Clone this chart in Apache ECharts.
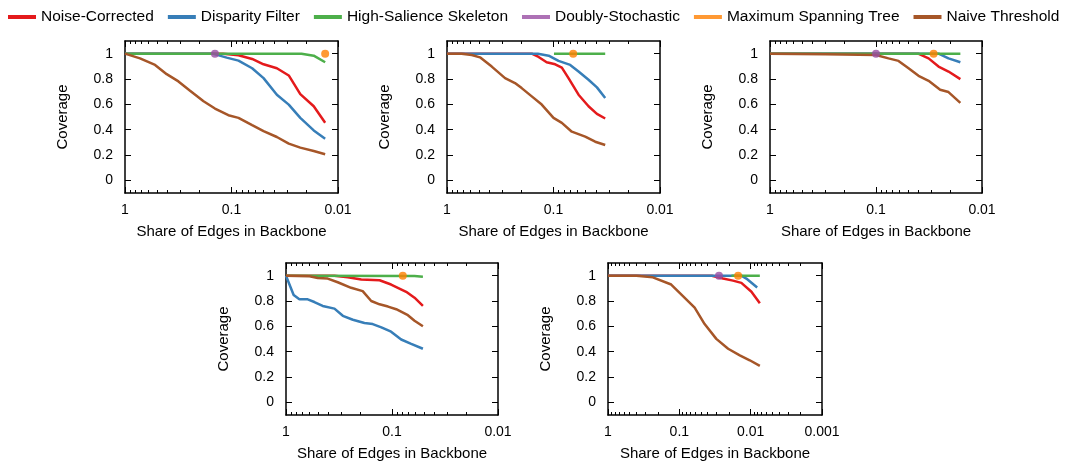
<!DOCTYPE html>
<html>
<head>
<meta charset="utf-8">
<script src="https://cdn.jsdelivr.net/npm/echarts@6/dist/echarts.min.js"></script>
<style>html,body{margin:0;padding:0;background:#fff;}#c{width:1065px;height:465px;}</style>
</head>
<body>
<div id="c"></div>
<script>
// ---- Data (x = share of edges in backbone, y = coverage) ----
const methods = ['Noise-Corrected','Disparity Filter','High-Salience Skeleton','Doubly-Stochastic','Maximum Spanning Tree','Naive Threshold'];
const colors = ['#e41a1c','#377eb8','#4daf4a','#984ea3','#ff7f00','#a65628'];
const yTicks = [0,0.2,0.4,0.6,0.8,1];
const xTicksA = [1,0.1,0.01];
const xTicksB = [1,0.1,0.01,0.001];

// Panel 1
const p1NC = [[1,1],[0.12,1],[0.086,0.987],[0.064,0.958],[0.05,0.916],[0.0375,0.885],[0.029,0.828],[0.0226,0.681],[0.0169,0.585],[0.0132,0.454]];
const p1DF = [[1,1],[0.15,1],[0.111,0.969],[0.086,0.945],[0.064,0.885],[0.05,0.807],[0.0375,0.676],[0.029,0.598],[0.0226,0.493],[0.0169,0.394],[0.0132,0.329]];
const p1HSS = [[1,1],[0.022,1],[0.0169,0.984],[0.0132,0.932]];
const p1DS = [[0.143,1]];
const p1MST = [[0.0132,1]];
const p1NT = [[1,1],[0.723,0.963],[0.522,0.911],[0.406,0.838],[0.315,0.781],[0.245,0.708],[0.183,0.624],[0.143,0.567],[0.107,0.514],[0.086,0.493],[0.064,0.436],[0.05,0.389],[0.0375,0.342],[0.029,0.29],[0.0226,0.258],[0.0169,0.232],[0.0132,0.206]];

// Panel 2
const p2NC = [[1,1],[0.16,1],[0.138,0.974],[0.116,0.932],[0.0964,0.916],[0.0835,0.89],[0.0723,0.807],[0.0582,0.676],[0.0469,0.585],[0.0391,0.525],[0.0327,0.488]];
const p2DF = [[1,1],[0.14,1],[0.111,0.984],[0.0897,0.943],[0.0697,0.911],[0.0582,0.859],[0.0469,0.794],[0.0391,0.734],[0.0327,0.65]];
const p2HSS = [[0.099,1],[0.0327,1]];
const p2DS = [];
const p2MST = [[0.0653,1]];
const p2NT = [[1,1],[0.73,1],[0.586,0.99],[0.49,0.971],[0.38,0.898],[0.285,0.807],[0.23,0.768],[0.199,0.728],[0.16,0.663],[0.129,0.598],[0.1,0.493],[0.0835,0.454],[0.0673,0.384],[0.0504,0.345],[0.0406,0.305],[0.0327,0.279]];

// Panel 3
const p3NC = [[1,1],[0.04,1],[0.0319,0.963],[0.0257,0.898],[0.0207,0.859],[0.016,0.799]];
const p3DF = [[1,1],[0.0257,1],[0.0207,0.963],[0.016,0.932]];
const p3HSS = [[1,1],[0.016,1]];
const p3DS = [[0.1,1]];
const p3MST = [[0.0286,1]];
const p3NT = [[1,1],[0.3,0.995],[0.1,0.99],[0.0762,0.963],[0.0613,0.943],[0.0493,0.885],[0.0397,0.825],[0.0319,0.786],[0.0248,0.715],[0.0207,0.697],[0.016,0.611]];

// Panel 4
const p4NC = [[1,1],[0.35,1],[0.261,0.987],[0.195,0.969],[0.131,0.964],[0.102,0.93],[0.0735,0.873],[0.0613,0.826],[0.0511,0.761]];
const p4DF = [[1,1],[0.847,0.847],[0.748,0.813],[0.624,0.813],[0.54,0.792],[0.451,0.761],[0.349,0.74],[0.291,0.683],[0.234,0.652],[0.182,0.626],[0.152,0.618],[0.126,0.592],[0.102,0.558],[0.0819,0.496],[0.0659,0.462],[0.0511,0.423]];
const p4HSS = [[1,1],[0.0613,0.997],[0.0511,0.992]];
const p4DS = [];
const p4MST = [[0.0791,1]];
const p4NT = [[1,1],[0.6,0.995],[0.502,0.982],[0.404,0.977],[0.325,0.948],[0.243,0.904],[0.189,0.878],[0.157,0.8],[0.131,0.774],[0.109,0.756],[0.0913,0.735],[0.0708,0.688],[0.0613,0.644],[0.0511,0.6]];

// Panel 5
const p5NC = [[1,1],[0.035,1],[0.0244,0.977],[0.0177,0.961],[0.0135,0.943],[0.00975,0.873],[0.00744,0.782]];
const p5DF = [[1,1],[0.0135,1],[0.0115,0.977],[0.0081,0.906]];
const p5HSS = [[0.0186,1],[0.00744,1]];
const p5DS = [[0.0278,1]];
const p5MST = [[0.015,1]];
const p5NT = [[1,1],[0.4,1],[0.235,0.987],[0.13,0.93],[0.089,0.839],[0.061,0.748],[0.0442,0.618],[0.0303,0.501],[0.0207,0.423],[0.0142,0.371],[0.0103,0.332],[0.00744,0.288]];

const panels = [
  {data:[p1NC,p1DF,p1HSS,p1DS,p1MST,p1NT], xmin:0.01, ticks:xTicksA, grid:{left:125,top:41,width:213,height:152}},
  {data:[p2NC,p2DF,p2HSS,p2DS,p2MST,p2NT], xmin:0.01, ticks:xTicksA, grid:{left:447,top:41,width:213,height:152}},
  {data:[p3NC,p3DF,p3HSS,p3DS,p3MST,p3NT], xmin:0.01, ticks:xTicksA, grid:{left:770,top:41,width:212,height:152}},
  {data:[p4NC,p4DF,p4HSS,p4DS,p4MST,p4NT], xmin:0.01, ticks:xTicksA, grid:{left:286,top:263,width:212,height:152}},
  {data:[p5NC,p5DF,p5HSS,p5DS,p5MST,p5NT], xmin:0.001, ticks:xTicksB, grid:{left:608,top:263,width:214,height:152}}
];

// ---- Build options ----
const FONT = 'Liberation Sans, Arial, sans-serif';
function minorTicks(xmin){
  const out=[];
  for(let e=Math.round(Math.log10(xmin)); e<0; e++){
    for(let k=2;k<=9;k++) out.push(Number((k*Math.pow(10,e)).toPrecision(3)));
  }
  return out;
}
const grids=[], xAxes=[], yAxes=[], series=[];
const lineC = '#000';
panels.forEach((p,gi)=>{
  grids.push(Object.assign({containLabel:false}, p.grid));
  const base = {type:'log', logBase:10, gridIndex:gi, min:p.xmin, max:1, inverse:true, splitLine:{show:false}};
  const minors = minorTicks(p.xmin);
  xAxes.push(Object.assign({}, base, {
    position:'bottom',
    axisLine:{show:true, onZero:false, lineStyle:{color:lineC, width:1.5}},
    axisTick:{show:true, inside:true, length:6, customValues:p.ticks, lineStyle:{color:lineC, width:1}},
    axisLabel:{show:true, customValues:p.ticks, fontSize:14, color:'#000', fontFamily:FONT, margin:10, formatter:v=>String(v)},
    name:'Share of Edges in Backbone', nameLocation:'middle', nameGap:31,
    nameTextStyle:{fontSize:15, color:'#000', fontFamily:FONT}
  }));
  xAxes.push(Object.assign({}, base, {
    position:'bottom', axisLine:{show:false, onZero:false},
    axisTick:{show:true, inside:true, length:3, customValues:minors, lineStyle:{color:lineC, width:1}},
    axisLabel:{show:false}
  }));
  xAxes.push(Object.assign({}, base, {
    position:'top',
    axisLine:{show:true, onZero:false, lineStyle:{color:lineC, width:1.5}},
    axisTick:{show:true, inside:true, length:6, customValues:p.ticks, lineStyle:{color:lineC, width:1}},
    axisLabel:{show:false}
  }));
  xAxes.push(Object.assign({}, base, {
    position:'top', axisLine:{show:false, onZero:false},
    axisTick:{show:true, inside:true, length:3, customValues:minors, lineStyle:{color:lineC, width:1}},
    axisLabel:{show:false}
  }));
  const ybase = {type:'value', gridIndex:gi, min:-0.1, max:1.1, splitLine:{show:false}};
  yAxes.push(Object.assign({}, ybase, {
    position:'left',
    axisLine:{show:true, onZero:false, lineStyle:{color:lineC, width:1.5}},
    axisTick:{show:true, inside:true, length:6, customValues:yTicks, lineStyle:{color:lineC, width:1}},
    axisLabel:{show:true, customValues:yTicks, fontSize:14, color:'#000', fontFamily:FONT, margin:12},
    name:'Coverage', nameLocation:'middle', nameGap:55, nameRotate:90,
    nameTextStyle:{fontSize:15, color:'#000', fontFamily:FONT}
  }));
  yAxes.push(Object.assign({}, ybase, {
    position:'right',
    axisLine:{show:true, onZero:false, lineStyle:{color:lineC, width:1.5}},
    axisTick:{show:true, inside:true, length:6, customValues:yTicks, lineStyle:{color:lineC, width:1}},
    axisLabel:{show:false}
  }));
  p.data.forEach((d,mi)=>{
    const isPoint = (mi===3 || mi===4);
    const s = {
      name:methods[mi], xAxisIndex:gi*4, yAxisIndex:gi*2, data:d,
      color:colors[mi], silent:true, animation:false
    };
    if(isPoint){
      Object.assign(s,{type:'scatter', symbol:'circle', symbolSize:8, itemStyle:{color:colors[mi]}, z:5});
    } else {
      Object.assign(s,{type:'line', symbol:'none', showSymbol:false, lineStyle:{width:2.5, color:colors[mi]}, itemStyle:{color:colors[mi]}, z:3+mi*0.01});
    }
    series.push(s);
  });
});

const chart = echarts.init(document.getElementById('c'), null, {renderer:'canvas'});
chart.setOption({
  animation:false,
  backgroundColor:'#fff',
  legend:{
    data:methods.map((m,i)=>({name:m, icon:'rect', itemStyle:{color:colors[i]}})),
    top:4, left:3, width:1062, itemWidth:28, itemHeight:4, itemGap:14,
    textStyle:{fontSize:15.5, color:'#000', fontFamily:FONT}
  },
  grid:grids, xAxis:xAxes, yAxis:yAxes, series:series
});
</script>
</body>
</html>
